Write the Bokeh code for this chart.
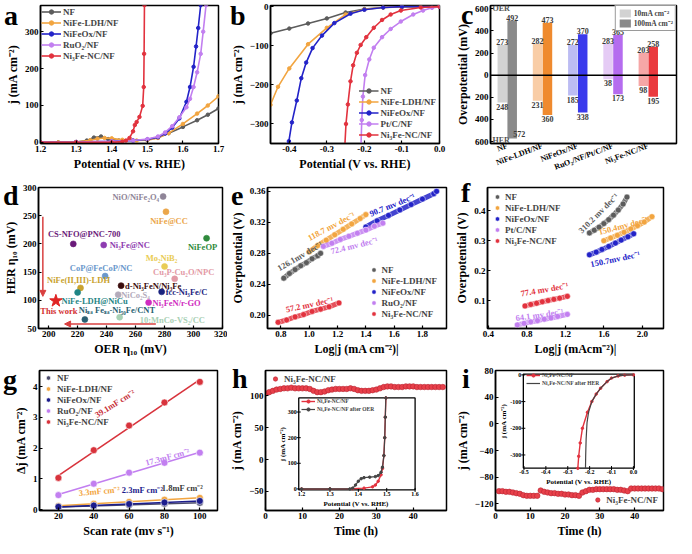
import numpy as np
from bokeh.plotting import figure
from bokeh.layouts import column, row
from bokeh.models import (Range1d, Label, Legend, LegendItem, FixedTicker,
                          NumeralTickFormatter, CustomJSTickFormatter, Arrow,
                          NormalHead, Span, ColumnDataSource, Div)
from bokeh.transform import dodge
from bokeh.core.properties import value
from bokeh.embed import file_html
from bokeh.resources import INLINE

SERIF = "Liberation Serif"
GRAY = "#5c5c5c"; ORANGE = "#f2a540"; BLUE = "#2323c8"; VIOLET = "#c27ff0"; RED = "#e2323e"

# ===================== DATA =====================
# (a) OER polarization curves
a_names = ["NF", "NiFe-LDH/NF", "NiFeOx/NF", "RuO₂/NF", "Ni₃Fe-NC/NF"]
a_nf_x = [1.20, 1.25, 1.30, 1.33, 1.35, 1.37, 1.39, 1.42, 1.46, 1.50, 1.53, 1.56, 1.60, 1.64, 1.67, 1.70]
a_nf_y = [0, 0, 1, 5, 13, 16, 9, 5, 5, 7, 13, 25, 42, 60, 75, 92]
a_ldh_x = [1.20, 1.25, 1.30, 1.34, 1.36, 1.38, 1.40, 1.43, 1.47, 1.50, 1.53, 1.56, 1.60, 1.64, 1.67, 1.70]
a_ldh_y = [0, 0, 1, 6, 10, 12, 11, 7, 5, 6, 12, 25, 50, 78, 100, 125]
a_ox_x = [1.20, 1.30, 1.40, 1.46, 1.50, 1.53, 1.55, 1.57, 1.59, 1.61, 1.62, 1.63, 1.637, 1.643, 1.65]
a_ox_y = [0, 1, 3, 5, 8, 14, 24, 40, 65, 110, 150, 205, 260, 310, 372]
a_ru_x = [1.20, 1.30, 1.40, 1.46, 1.50, 1.53, 1.55, 1.57, 1.59, 1.61, 1.62, 1.63, 1.64, 1.65, 1.657, 1.665]
a_ru_y = [0, 1, 3, 5, 9, 16, 27, 44, 68, 95, 118, 150, 190, 240, 300, 372]
a_ni_x = [1.20, 1.30, 1.40, 1.43, 1.44, 1.45, 1.46, 1.465, 1.47, 1.478, 1.487, 1.490, 1.491, 1.492]
a_ni_y = [0, 0, 0, 2, 5, 12, 30, 47, 55, 69, 99, 150, 240, 372]
a_xticks = [1.2, 1.3, 1.4, 1.5, 1.6, 1.7]
a_yticks = [0, 100, 200, 300]

# (b) HER polarization curves
b_names = ["NF", "NiFe-LDH/NF", "NiFeOx/NF", "Pt/C/NF", "Ni₃Fe-NC/NF"]
b_nf_x = [0.0, -0.05, -0.10, -0.15, -0.20, -0.25, -0.30, -0.35, -0.40, -0.45]
b_nf_y = [0, 0, -1, -2, -6, -15, -30, -43, -56, -68]
b_ldh_x = [0.0, -0.10, -0.15, -0.20, -0.25, -0.30, -0.35, -0.40, -0.43, -0.45]
b_ldh_y = [0, 0, -2, -7, -20, -54, -96, -158, -205, -251]
b_ox_x = [0.0, -0.10, -0.15, -0.20, -0.237, -0.28, -0.313, -0.338, -0.355, -0.368, -0.38, -0.393, -0.401, -0.405]
b_ox_y = [0, 0, -2, -8, -18, -42, -74, -106, -143, -183, -240, -296, -344, -355]
b_pt_x = [0.0, -0.02, -0.044, -0.07, -0.103, -0.13, -0.153, -0.175, -0.187, -0.198, -0.204, -0.207, -0.209]
b_pt_y = [0, -3, -10, -20, -38, -57, -78, -105, -135, -175, -230, -290, -355]
b_ni_x = [0.0, -0.05, -0.103, -0.13, -0.153, -0.175, -0.195, -0.21, -0.22, -0.23, -0.237, -0.244, -0.249, -0.252]
b_ni_y = [0, -2, -10, -20, -34, -54, -78, -98, -118, -150, -191, -250, -300, -355]
b_xticks = [-0.4, -0.3, -0.2, -0.1, 0.0]
b_yticks = [-300, -200, -100, 0]

# (c) overpotentials
c_cats = ["NF", "NiFe-LDH/NF", "NiFeOx/NF", "RuO₂/NF/Pt/C/NF", "Ni₃Fe-NC/NF"]
c_oer10 = [273, 282, 272, 283, 203]
c_oer100 = [492, 473, 370, 365, 258]
c_her10 = [248, 231, 185, 38, 98]
c_her100 = [572, 360, 338, 173, 195]
c_yticks = [-600, -400, -200, 0, 200, 400, 600]
c_light = ["#d2d2d2", "#f9cda6", "#bcbcf3", "#e5cbf5", "#f6a6a6"]
c_dark = ["#8a8a8a", "#ef8a2e", "#3a3aec", "#b56cef", "#ea3a3e"]

# (d) comparison
d_names = ["NiO/NiFe₂O₄", "NiFe@CC", "NiFeOP", "CS-NFO@PNC-700", "Ni₃Fe@NC", "Mo₂NiB₂",
           "Cu₃P-Cu₂O/NPC", "CoP@FeCoP/NC", "NiFe(II,III)-LDH", "NiFe-LDH@NiCu",
           "d-Ni₃FeN/Ni₃Fe", "fcc-Ni₃Fe/C", "NiCo₂S₄", "Ni₃FeN/r-GO",
           "Niₛₐ Feₛₐ-Ni₅₀Fe/CNT", "10:MnCo-VS₂/CC"]
d_oer = [279, 281, 309, 217, 238, 280, 287, 239, 222, 220, 250, 278, 248, 269, 225, 249]
d_her = [284, 257, 210, 200, 198, 160, 138, 143, 122, 114, 126, 115, 110, 96, 66, 70]
d_this_oer = [205]
d_this_her = [99]
d_colors = ["#8f8598", "#eba64a", "#2f8a3c", "#6a1b7a", "#8e3cb0", "#e9cc55",
            "#e39aa6", "#6b98cc", "#c9a22e", "#1f8585", "#3b0d0d", "#1a237e",
            "#b3abbb", "#d02cc0", "#2a5f72", "#a8d0b4"]
d_dx = [-4, 3, -4, 11, 6, -3, 9, -4, -2, -16, 4, 4, 3, 4, -6, 20]
d_dy = [0, 9, 9, -10, 0, -8, -7, -8, -8, 9, 0, 0, 0, 0, -9, 3]
d_align = ["right", "center", "center", "center", "left", "center", "center", "center",
           "center", "left", "left", "left", "left", "left", "left", "left"]

# (e) OER Tafel
e_names = ["NF", "NiFe-LDH/NF", "NiFeOx/NF", "RuO₂/NF", "Ni₃Fe-NC/NF"]
e_nf_x = [0.82, 0.86, 0.90, 0.94, 0.98, 1.02, 1.06, 1.08]
e_nf_y = [0.248, 0.254, 0.259, 0.264, 0.268, 0.273, 0.277, 0.280]
e_ldh_x = [1.00, 1.06, 1.12, 1.18, 1.24, 1.30, 1.36, 1.40]
e_ldh_y = [0.282, 0.290, 0.297, 0.304, 0.311, 0.318, 0.325, 0.330]
e_ox_x = [1.40, 1.48, 1.56, 1.64, 1.72, 1.80, 1.88, 1.90]
e_ox_y = [0.314, 0.322, 0.329, 0.336, 0.343, 0.350, 0.357, 0.360]
e_ru_x = [1.10, 1.16, 1.22, 1.28, 1.34, 1.40, 1.46, 1.52]
e_ru_y = [0.289, 0.293, 0.298, 0.302, 0.306, 0.310, 0.315, 0.319]
e_ni_x = [0.78, 0.84, 0.90, 0.96, 1.02, 1.08, 1.14, 1.21]
e_ni_y = [0.191, 0.194, 0.198, 0.201, 0.205, 0.208, 0.211, 0.216]
e_slopes = ["126.1mv dec⁻¹", "118.7 mv dec⁻¹", "90.7 mv dec⁻¹", "72.4 mv dec⁻¹", "57.2 mv dec⁻¹"]
e_xticks = [0.8, 1.0, 1.2, 1.4, 1.6, 1.8]
e_yticks = [0.20, 0.24, 0.28, 0.32, 0.36]

# (f) HER Tafel
f_names = ["NF", "NiFe-LDH/NF", "NiFeOx/NF", "Pt/C/NF", "Ni₃Fe-NC/NF"]
f_nf_x = [1.45, 1.50, 1.55, 1.60, 1.65, 1.70, 1.75, 1.80, 1.84]
f_nf_y = [0.326, 0.335, 0.345, 0.357, 0.370, 0.385, 0.402, 0.422, 0.445]
f_ldh_x = [1.60, 1.67, 1.74, 1.81, 1.88, 1.95, 2.02, 2.10]
f_ldh_y = [0.300, 0.309, 0.318, 0.328, 0.339, 0.350, 0.362, 0.380]
f_ox_x = [1.45, 1.52, 1.58, 1.65, 1.72, 1.78, 1.85, 1.91]
f_ox_y = [0.253, 0.262, 0.271, 0.281, 0.292, 0.302, 0.313, 0.323]
f_pt_x = [0.70, 0.77, 0.84, 0.91, 0.98, 1.05, 1.12, 1.22]
f_pt_y = [0.020, 0.025, 0.030, 0.034, 0.039, 0.043, 0.048, 0.055]
f_ni_x = [0.78, 0.84, 0.90, 0.96, 1.02, 1.08, 1.14, 1.22]
f_ni_y = [0.083, 0.088, 0.092, 0.097, 0.101, 0.105, 0.109, 0.115]
f_slopes = ["310.2 mv dec⁻¹", "150.4mv dec⁻¹", "150.7mv dec⁻¹", "64.1 mv dec⁻¹", "77.4 mv dec⁻¹"]
f_xticks = [0.4, 0.8, 1.2, 1.6, 2.0]
f_yticks = [0.1, 0.2, 0.3, 0.4]

# (g) double-layer capacitance
g_names = ["NF", "NiFe-LDH/NF", "NiFeOx/NF", "RuO₂/NF", "Ni₃Fe-NC/NF"]
g_rate = [20, 40, 60, 80, 100]
g_nf = [0.08, 0.12, 0.15, 0.19, 0.22]
g_ldh = [0.12, 0.19, 0.25, 0.32, 0.38]
g_ox = [0.09, 0.13, 0.18, 0.23, 0.28]
g_ru = [0.47, 0.84, 1.20, 1.52, 1.85]
g_ni = [1.03, 1.93, 2.73, 3.48, 4.15]
g_cdl = ["1.8mF cm⁻²", "3.3mF cm⁻²", "2.3mF cm⁻²", "17.3mF cm⁻²", "39.1mF cm⁻²"]
g_xticks = [20, 40, 60, 80, 100]
g_yticks = [0, 1, 2, 3, 4]

# (h) OER stability + inset
h_t = list(range(0, 49))
h_j = [104, 106, 108, 110, 111, 112, 112, 113, 112, 112, 112, 112, 111, 108, 106,
       106, 107, 109, 110, 111, 111, 111, 111, 112, 111, 109, 108, 108, 108, 109,
       110, 112, 114, 115, 115, 114, 114, 114, 115, 115, 115, 114, 114, 114, 114,
       114, 114, 114, 114]
h_in_x1 = [1.20, 1.30, 1.38, 1.42, 1.45, 1.46, 1.47, 1.48, 1.485, 1.49, 1.493, 1.495, 1.497]
h_in_y1 = [0, 0, 1, 3, 8, 15, 30, 55, 80, 130, 200, 280, 355]
h_in_x2 = [1.20, 1.30, 1.37, 1.38, 1.39, 1.40, 1.41, 1.42, 1.44, 1.46, 1.47, 1.48, 1.485, 1.49, 1.493, 1.495, 1.497]
h_in_y2 = [0, 0, 0, 3, 15, 30, 40, 44, 46, 48, 52, 65, 85, 130, 200, 280, 355]
h_in_names = ["Ni₃Fe-NC/NF", "Ni₃Fe-NC/NF after OER"]
h_in_xt = [1.2, 1.3, 1.4, 1.5, 1.6]
h_in_xtl = ["1.2", "1.3", "1.4", "1.5", "1.6"]
h_in_yt = [0, 100, 200, 300]
h_in_ytl = ["0", "100", "200", "300"]

# (i) HER stability + inset
i_t = list(range(1, 49))
i_j = [-101, -101, -102, -102, -103, -104, -105, -107, -108, -108, -108, -108,
       -100, -102, -103, -104, -104, -105, -105, -106, -106, -107, -107, -108,
       -103, -101, -99, -99, -98, -98, -98, -98, -98, -98, -99, -99,
       -100, -101, -97, -97, -97, -97, -97, -97, -97, -97, -97, -98]
i_in_x1 = [0.0, -0.04, -0.07, -0.10, -0.12, -0.15, -0.17, -0.19, -0.21, -0.233, -0.243, -0.25, -0.254]
i_in_y1 = [0, -1, -4, -12, -25, -50, -72, -100, -140, -200, -255, -305, -350]
i_in_x2 = [0.0, -0.04, -0.07, -0.10, -0.12, -0.15, -0.17, -0.19, -0.205, -0.212, -0.216, -0.218, -0.219]
i_in_y2 = [0, -1, -4, -12, -25, -50, -72, -100, -140, -180, -240, -300, -350]
i_in_names = ["Ni₃Fe-NC/NF", "Ni₃Fe-NC/NF after HER"]
i_in_xt = [-0.5, -0.4, -0.3, -0.2, -0.1, 0.0]
i_in_xtl = ["-0.5", "-0.4", "-0.3", "-0.2", "-0.1", "0.0"]
i_in_yt = [-300, -200, -100, 0]
i_in_ytl = ["-300", "-200", "-100", "0"]

# panel letters (page positions: left edge, baseline)
letters = ["a", "b", "c", "d", "e", "f", "g", "h", "i"]
letter_left = [4, 230, 461, 3, 231, 461, 3, 232, 462]
letter_base = [25, 25, 24, 205, 205, 202, 389, 388, 388]


# ===================== HELPERS =====================
def tf(size, color="black", style="bold"):
    return dict(text_font=value(SERIF), text_font_style=style,
                text_font_size=value(size), text_color=color)


def mkfig(w, h, xr, yr, bl, br, bt, bb, xlabel, ylabel, xticks, yticks,
          xfmt=None, yfmt=None):
    p = figure(width=w, height=h, x_range=Range1d(*xr), y_range=Range1d(*yr),
               output_backend="svg", toolbar_location=None, min_border=0,
               min_border_left=bl, min_border_right=br,
               min_border_top=bt, min_border_bottom=bb)
    p.grid.visible = False
    p.outline_line_color = "black"
    p.outline_line_width = 1.5
    p.outline_line_alpha = 1
    p.background_fill_color = "white"
    p.xaxis.axis_label = xlabel
    p.yaxis.axis_label = ylabel
    p.xaxis.ticker = FixedTicker(ticks=xticks)
    p.yaxis.ticker = FixedTicker(ticks=yticks)
    if xfmt is not None:
        p.xaxis.formatter = xfmt
    if yfmt is not None:
        p.yaxis.formatter = yfmt
    for ax in (p.xaxis[0], p.yaxis[0]):
        ax.axis_line_color = "black"
        ax.axis_line_width = 1.5
        ax.major_tick_in = 3
        ax.major_tick_out = 0
        ax.major_tick_line_width = 1.2
        ax.minor_tick_line_color = None
        ax.major_label_text_font = SERIF
        ax.major_label_text_font_style = "bold"
        ax.major_label_text_font_size = "9px"
        ax.major_label_text_color = "black"
        ax.major_label_standoff = 2
        ax.axis_label_text_font = SERIF
        ax.axis_label_text_font_style = "bold"
        ax.axis_label_text_font_size = "12px"
        ax.axis_label_text_color = "black"
        ax.axis_label_standoff = 2
    return p


def legend(p, items, loc, size="9px", lh=11, gw=20, margin=1, padding=0):
    lg = Legend(items=items, location=loc)
    lg.label_text_font = SERIF
    lg.label_text_font_style = "bold"
    lg.label_text_font_size = size
    lg.background_fill_alpha = 0
    lg.border_line_alpha = 0
    lg.spacing = 0
    lg.padding = padding
    lg.margin = margin
    lg.label_height = lh
    lg.glyph_height = lh
    lg.glyph_width = gw
    lg.label_standoff = 2
    p.add_layout(lg)
    return lg


def add_inset(p, xsrc, ysrc, xtgt, ytgt, xt, xtl, yt, ytl, xlab, ylab, ylab_off):
    sub = p.subplot(x_source=Range1d(*xsrc), y_source=Range1d(*ysrc),
                    x_target=Range1d(*xtgt), y_target=Range1d(*ytgt))
    sub.quad(left=[xsrc[0]], right=[xsrc[1]], bottom=[ysrc[0]], top=[ysrc[1]],
             fill_color="white", line_color="black", line_width=1.3)
    sub.scatter(x=xt, y=[ysrc[0]] * len(xt), marker="dash", angle=np.pi / 2,
                size=4, line_color="black", line_width=1)
    sub.scatter(x=[xsrc[0]] * len(yt), y=yt, marker="dash", size=4,
                line_color="black", line_width=1)
    sub.text(x=xt, y=[ysrc[0]] * len(xt), text=xtl, text_align="center",
             text_baseline="top", y_offset=2, **tf("6px"))
    sub.text(x=[xsrc[0]] * len(yt), y=yt, text=ytl, text_align="right",
             text_baseline="middle", x_offset=-2, **tf("6px"))
    sub.text(x=[(xsrc[0] + xsrc[1]) / 2], y=[ysrc[0]], text=[xlab],
             text_align="center", text_baseline="top", y_offset=10, **tf("7px"))
    sub.text(x=[xsrc[0]], y=[(ysrc[0] + ysrc[1]) / 2], text=[ylab],
             text_align="center", text_baseline="middle", angle=np.pi / 2,
             x_offset=ylab_off, **tf("7px"))
    return sub


cols5 = [GRAY, ORANGE, BLUE, VIOLET, RED]

# ===================== (a) =====================
pa = mkfig(227, 178, (1.2, 1.7), (-3, 371), 40, 9, 4, 31,
           "Potential (V vs. RHE)", "j (mA cm⁻²)", a_xticks, a_yticks,
           xfmt=NumeralTickFormatter(format="0.0"))
items = []
for nm, xs, ys, col in zip(a_names, [a_nf_x, a_ldh_x, a_ox_x, a_ru_x, a_ni_x],
                           [a_nf_y, a_ldh_y, a_ox_y, a_ru_y, a_ni_y], cols5):
    r1 = pa.line(xs, ys, line_color=col, line_width=1.6)
    r2 = pa.scatter(xs, ys, size=3.5, fill_color=col, line_color=col)
    items.append(LegendItem(label=nm, renderers=[r1, r2]))
legend(pa, items, "top_left", margin=1)

# ===================== (b) =====================
pb = mkfig(225, 178, (-0.45, 0.0), (-350, 3), 34, 13, 3, 31,
           "Potential (V vs. RHE)", "j (mA cm⁻²)", b_xticks, b_yticks,
           xfmt=NumeralTickFormatter(format="0.0"))
items = []
for nm, xs, ys, col in zip(b_names, [b_nf_x, b_ldh_x, b_ox_x, b_pt_x, b_ni_x],
                           [b_nf_y, b_ldh_y, b_ox_y, b_pt_y, b_ni_y], cols5):
    r1 = pb.line(xs, ys, line_color=col, line_width=1.6)
    r2 = pb.scatter(xs, ys, size=3.5, fill_color=col, line_color=col)
    items.append(LegendItem(label=nm, renderers=[r1, r2]))
legend(pb, items, "bottom_right", margin=3)

# ===================== (c) =====================
pc = mkfig(230, 178, (-0.475, 4.8), (-618, 630), 32, 6, 5, 35,
           "", "Overpotential (mV)", [0, 1, 2, 3, 4], c_yticks,
           xfmt=CustomJSTickFormatter(args=dict(names=c_cats),
                                      code="return names[Math.round(tick)] || '';"),
           yfmt=CustomJSTickFormatter(code="return Math.abs(tick).toString();"))
pc.xaxis.major_label_orientation = 0.36
pc.xaxis.major_label_text_font_size = "8px"
pc.xaxis.major_tick_in = 0
srcc = ColumnDataSource(dict(
    idx=list(range(len(c_cats))), oer10=c_oer10, oer100=c_oer100,
    her10=[-v for v in c_her10], her100=[-v for v in c_her100],
    light=c_light, dark=c_dark,
    t_oer10=[str(v) for v in c_oer10], t_oer100=[str(v) for v in c_oer100],
    t_her10=[str(v) for v in c_her10], t_her100=[str(v) for v in c_her100],
    dx100=[7, 0, 0, 0, 0], dy100=[-7, 1, 1, 1, 1]))
rl = pc.vbar(x=dodge("idx", -0.14), width=0.27, top="oer10", bottom="her10",
             fill_color="light", line_color=None, source=srcc)
rd = pc.vbar(x=dodge("idx", 0.14), width=0.27, top="oer100", bottom="her100",
             fill_color="dark", line_color=None, source=srcc)
pc.add_layout(Span(location=0, dimension="width", line_color="black", line_width=1.5))
lab_kw = tf("8px", "#3a3a3a")
pc.text(x=dodge("idx", -0.14), y="oer10", text="t_oer10", text_align="center",
        text_baseline="bottom", source=srcc, **lab_kw)
pc.text(x=dodge("idx", 0.14), y="oer100", text="t_oer100", text_align="center",
        text_baseline="bottom", source=srcc, **lab_kw)
pc.text(x=dodge("idx", -0.14), y="her10", text="t_her10", text_align="center",
        text_baseline="top", y_offset=1, source=srcc, **lab_kw)
pc.text(x=dodge("idx", 0.14), y="her100", text="t_her100", text_align="center",
        text_baseline="top", x_offset="dx100", y_offset="dy100", source=srcc, **lab_kw)
lgc = legend(pc, [LegendItem(label="10mA cm⁻²", renderers=[rl], index=0),
                  LegendItem(label="100mA cm⁻²", renderers=[rd], index=0)],
             "top_right", size="7.5px", lh=10, gw=14, margin=0, padding=2)
lgc.border_line_alpha = 1
lgc.border_line_color = "#9a9a9a"
lgc.background_fill_alpha = 1
for txt, yy in (("OER", 135), ("HER", 3)):
    pc.add_layout(Label(x=2, y=yy, x_units="screen", y_units="screen", text=txt,
                        text_font=SERIF, text_font_style="bold", text_font_size="8px",
                        text_color="#555555", text_baseline="middle"))

# ===================== (d) =====================
pd_ = mkfig(227, 180, (193, 320), (50, 300), 38, 5, 9, 27,
            "OER η₁₀ (mV)", "HER η₁₀ (mV)", [200, 220, 240, 260, 280, 300, 320],
            [50, 100, 150, 200, 250, 300])
srcd = ColumnDataSource(dict(x=d_oer, y=d_her, name=d_names, c=d_colors,
                             dx=d_dx, dy=d_dy, al=d_align))
pd_.scatter("x", "y", source=srcd, size=6, fill_color="c", line_color="c", line_alpha=0.6)
pd_.text("x", "y", text="name", source=srcd, x_offset="dx", y_offset="dy",
         text_align="al", text_baseline="middle", text_color="c",
         text_font=value(SERIF), text_font_style="bold", text_font_size=value("8.5px"))
pd_.scatter(d_this_oer, d_this_her, marker="star", size=13, fill_color="#e02424",
            line_color="#e02424")
pd_.text(d_this_oer, d_this_her, text=["This work"], x_offset=3, y_offset=10,
         text_align="center", text_baseline="middle", **tf("8.5px", "#d32f2f"))
pd_.add_layout(Arrow(end=NormalHead(size=6, fill_color="#d94040", line_color="#d94040"),
                     x_start=196, y_start=248, x_end=196, y_end=107,
                     line_color="#d94040", line_width=1.5))
pd_.add_layout(Arrow(end=NormalHead(size=6, fill_color="#d94040", line_color="#d94040"),
                     x_start=274, y_start=58, x_end=211, y_end=58,
                     line_color="#d94040", line_width=1.5))

# ===================== (e) =====================
pe = mkfig(225, 180, (0.705, 1.97), (0.183, 0.365), 32, 6, 9, 26,
           "Log|j (mA cm⁻²)|", "Overpotential (V)", e_xticks, e_yticks,
           xfmt=NumeralTickFormatter(format="0.0"), yfmt=NumeralTickFormatter(format="0.00"))
items = []
for nm, xs, ys, col in zip(e_names, [e_nf_x, e_ldh_x, e_ox_x, e_ru_x, e_ni_x],
                           [e_nf_y, e_ldh_y, e_ox_y, e_ru_y, e_ni_y], cols5):
    pe.line(xs, ys, line_color=col, line_width=5, line_alpha=0.85)
    r = pe.scatter(xs, ys, size=6, fill_color=col, line_color="white", line_width=0.5)
    items.append(LegendItem(label=nm, renderers=[r]))
legend(pe, items, "bottom_right", margin=9, gw=12)
e_ax = [0.934, 1.156, 1.586, 1.317, 1.001]
e_ay = [0.2765, 0.315, 0.3426, 0.290, 0.214]
e_ang = [30, 28, 22, 14, 12]
for t, x, y, a, col in zip(e_slopes, e_ax, e_ay, e_ang, cols5):
    pe.text([x], [y], text=[t], angle=np.deg2rad(a), text_align="center",
            text_baseline="middle", **tf("8.5px", col))

# ===================== (f) =====================
pf = mkfig(230, 180, (0.39, 2.22), (0.008, 0.477), 32, 19, 8, 28,
           "Log|j (mAcm⁻²)|", "Overpotential (V)", f_xticks, f_yticks,
           xfmt=NumeralTickFormatter(format="0.0"), yfmt=NumeralTickFormatter(format="0.0"))
items = []
for nm, xs, ys, col in zip(f_names, [f_nf_x, f_ldh_x, f_ox_x, f_pt_x, f_ni_x],
                           [f_nf_y, f_ldh_y, f_ox_y, f_pt_y, f_ni_y], cols5):
    pf.line(xs, ys, line_color=col, line_width=5, line_alpha=0.85)
    r = pf.scatter(xs, ys, size=6, fill_color=col, line_color="white", line_width=0.5)
    items.append(LegendItem(label=nm, renderers=[r]))
legend(pf, items, "top_left", margin=4, gw=12)
f_ax = [1.543, 1.799, 1.717, 0.931, 0.982]
f_ay = [0.392, 0.350, 0.239, 0.054, 0.138]
f_ang = [45, 15, 12, 8, 10]
for t, x, y, a, col in zip(f_slopes, f_ax, f_ay, f_ang, cols5):
    pf.text([x], [y], text=[t], angle=np.deg2rad(a), text_align="center",
            text_baseline="middle", **tf("8.5px", col))

# ===================== (g) =====================
pg = mkfig(227, 182, (9.3, 110), (-0.03, 4.52), 39, 10, 12, 26,
           "Scan rate (mv s⁻¹)", "Δj (mA cm⁻²)", g_xticks, g_yticks)
g_cols = ["#4a4a6a", ORANGE, "#1c1c8c", VIOLET, "#d8333c"]
items = []
for nm, ys, col in zip(g_names, [g_nf, g_ldh, g_ox, g_ru, g_ni], g_cols):
    k, b0 = np.polyfit(g_rate, ys, 1)
    pg.line([g_rate[0], g_rate[-1]], [k * g_rate[0] + b0, k * g_rate[-1] + b0],
            line_color=col, line_width=1.6)
    r = pg.scatter(g_rate, ys, size=7, fill_color=col, line_color="white", line_width=0.6)
    items.append(LegendItem(label=nm, renderers=[r]))
legend(pg, items, "top_left", margin=2, gw=14)
g_ax = [90.2, 43.2, 67.6, 81.7, 52.0]
g_ay = [0.70, 0.60, 0.63, 1.71, 3.45]
g_ang = [0, 5, 0, 15, 32]
g_tc = ["#3a3a3a", ORANGE, "#1c1c8c", VIOLET, "#c8303a"]
for t, x, y, a, col in zip(g_cdl, g_ax, g_ay, g_ang, g_tc):
    pg.text([x], [y], text=[t], angle=np.deg2rad(a), text_align="center",
            text_baseline="middle", **tf("8.5px", col))

# ===================== (h) =====================
ph = mkfig(225, 182, (0, 49), (-80, 140), 34, 6, 12, 27,
           "Time (h)", "j (mA cm⁻²)", [0, 10, 20, 30, 40], [-50, 0, 50, 100])
rh = ph.scatter(h_t, h_j, size=5.5, fill_color="#e8404a", line_color="#b82430", line_width=0.6)
legend(ph, [LegendItem(label="Ni₃Fe-NC/NF", renderers=[rh])], "top_left", margin=3, gw=14)
hs = add_inset(ph, (1.19, 1.6), (-4, 355), (9.0, 40.5), (-47.7, 96.9),
               h_in_xt, h_in_xtl, h_in_yt, h_in_ytl,
               "Potential  (V vs. RHE)", "j (mA cm⁻²)", -16)
r1 = hs.line(h_in_x1, h_in_y1, line_color=RED, line_width=1.4)
r1b = hs.scatter(h_in_x1, h_in_y1, size=2.5, fill_color=RED, line_color=RED)
r2 = hs.line(h_in_x2, h_in_y2, line_color="#444444", line_width=1.2)
r2b = hs.scatter(h_in_x2, h_in_y2, size=2.5, fill_color="#444444", line_color="#444444")
legend(ph, [LegendItem(label=h_in_names[0], renderers=[r1, r1b]),
            LegendItem(label=h_in_names[1], renderers=[r2, r2b])],
       (36, 97), size="5.5px", lh=8, gw=14, margin=0)

# ===================== (i) =====================
pi_ = mkfig(230, 182, (0, 48.3), (-130, 80), 32, 19, 12, 26,
            "Time (h)", "j (mA cm⁻²)", [0, 10, 20, 30, 40], [-120, -80, -40, 0, 40, 80])
ri = pi_.scatter(i_t, i_j, size=5.5, fill_color="#e8404a", line_color="#b82430", line_width=0.6)
legend(pi_, [LegendItem(label="Ni₃Fe-NC/NF", renderers=[ri])], "bottom_right", margin=5, gw=14)
isub = add_inset(pi_, (-0.503, 0.004), (-349, 3), (8.0, 39.9), (-66.3, 74.6),
                 i_in_xt, i_in_xtl, i_in_yt, i_in_ytl,
                 "Potential (V vs. RHE)", "j (mA cm⁻²)", -19)
s1 = isub.line(i_in_x1, i_in_y1, line_color=RED, line_width=1.4)
s1b = isub.scatter(i_in_x1, i_in_y1, size=2.5, fill_color=RED, line_color=RED)
s2 = isub.line(i_in_x2, i_in_y2, line_color="#444444", line_width=1.2)
legend(pi_, [LegendItem(label=i_in_names[0], renderers=[s1, s1b]),
             LegendItem(label=i_in_names[1], renderers=[s2])],
       (31, 123), size="5.5px", lh=8, gw=14, margin=0)

# ===================== panel letters (HTML overlay, page coordinates) =====================
divs = []
for t, lx, by in zip(letters, letter_left, letter_base):
    divs.append(Div(text=t, margin=0, styles={
        "position": "absolute", "left": f"{lx}px", "top": f"{by - 23}px",
        "font-family": SERIF, "font-weight": "bold", "font-size": "28px",
        "line-height": "28px", "color": "black", "z-index": "10"}))

layout = column(row(pa, pb, pc), row(pd_, pe, pf), row(pg, ph, pi_), *divs)
open("out.html", "w").write(file_html(layout, INLINE))
